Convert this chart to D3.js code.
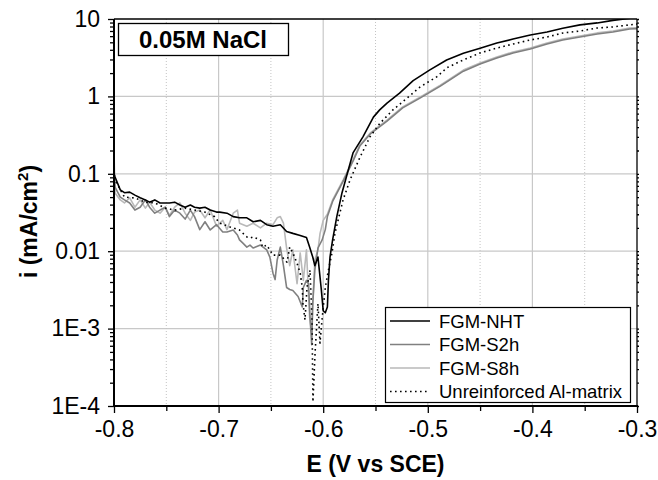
<!DOCTYPE html>
<html>
<head>
<meta charset="utf-8">
<script src="https://cdn.jsdelivr.net/npm/d3@7"></script>
<style>
  body { margin: 0; background: #fff; }
  svg { font-family: "Liberation Sans", Arial, Helvetica, sans-serif; }
</style>
</head>
<body>
<div id="chart"></div>
<script>
// axis values
const xTicks = [-0.8, -0.7, -0.6, -0.5, -0.4, -0.3];
const xMinorTicks = [-0.75, -0.65, -0.55, -0.45, -0.35];
const yTicks = [1e-4, 1e-3, 0.01, 0.1, 1, 10];
const yTickLabels = ["1E-4", "1E-3", "0.01", "0.1", "1", "10"];
const seriesNames = ["FGM-NHT", "FGM-S2h", "FGM-S8h", "Unreinforced Al-matrix"];

// [E (V vs SCE), i (mA/cm2)]
const nhtData = [
  [-0.800, 0.10], [-0.799, 0.091], [-0.794, 0.062], [-0.790, 0.057], [-0.785, 0.058],
  [-0.780, 0.053], [-0.775, 0.049], [-0.770, 0.046], [-0.766, 0.043], [-0.761, 0.046],
  [-0.756, 0.042], [-0.751, 0.042], [-0.747, 0.042], [-0.742, 0.043], [-0.737, 0.0395],
  [-0.732, 0.037], [-0.727, 0.0395], [-0.723, 0.037], [-0.718, 0.036], [-0.713, 0.037],
  [-0.708, 0.034], [-0.702, 0.032], [-0.699, 0.032], [-0.692, 0.031], [-0.686, 0.028],
  [-0.680, 0.027], [-0.673, 0.027], [-0.667, 0.024], [-0.660, 0.025], [-0.654, 0.022],
  [-0.648, 0.021], [-0.641, 0.022], [-0.635, 0.018], [-0.629, 0.017], [-0.622, 0.016],
  [-0.616, 0.015], [-0.613, 0.0113], [-0.610, 0.0084], [-0.608, 0.0065], [-0.606, 0.0077],
  [-0.605, 0.0084], [-0.602, 0.0034], [-0.600, 0.0017], [-0.598, 0.0016], [-0.596, 0.0019],
  [-0.595, 0.0042], [-0.5935, 0.0084], [-0.591, 0.014], [-0.587, 0.028], [-0.582, 0.057],
  [-0.577, 0.10], [-0.5715, 0.186], [-0.562, 0.30], [-0.552, 0.54], [-0.546, 0.67],
  [-0.539, 0.82], [-0.527, 1.1], [-0.514, 1.6], [-0.498, 2.2], [-0.482, 2.95],
  [-0.466, 3.6], [-0.450, 4.2], [-0.434, 4.9], [-0.4185, 5.5], [-0.402, 6.2],
  [-0.386, 6.8], [-0.371, 7.6], [-0.3545, 8.4], [-0.338, 8.9], [-0.323, 9.6],
  [-0.312, 10.0], [-0.300, 10.5]
];

const s2hData = [
  [-0.800, 0.12], [-0.799, 0.0675], [-0.794, 0.050], [-0.790, 0.046], [-0.785, 0.042],
  [-0.780, 0.034], [-0.775, 0.037], [-0.770, 0.046], [-0.766, 0.037], [-0.761, 0.031],
  [-0.756, 0.034], [-0.751, 0.037], [-0.747, 0.028], [-0.742, 0.034], [-0.737, 0.031],
  [-0.732, 0.026], [-0.727, 0.034], [-0.723, 0.028], [-0.718, 0.019], [-0.713, 0.024],
  [-0.708, 0.0188], [-0.702, 0.022], [-0.696, 0.0177], [-0.692, 0.0177], [-0.686, 0.0188],
  [-0.682, 0.0162], [-0.680, 0.014], [-0.677, 0.0128], [-0.673, 0.0113], [-0.670, 0.012],
  [-0.667, 0.011], [-0.660, 0.012], [-0.654, 0.0104], [-0.651, 0.0084], [-0.648, 0.0052],
  [-0.646, 0.0043], [-0.644, 0.0077], [-0.641, 0.0113], [-0.638, 0.0065], [-0.635, 0.0034],
  [-0.632, 0.0032], [-0.629, 0.0031], [-0.624, 0.0026], [-0.620, 0.0019], [-0.619, 0.0034],
  [-0.616, 0.0042], [-0.614, 0.0038], [-0.6126, 0.0014], [-0.611, 0.00062], [-0.610, 0.0021],
  [-0.608, 0.0057], [-0.605, 0.011], [-0.601, 0.014], [-0.598, 0.019], [-0.596, 0.028],
  [-0.591, 0.044], [-0.581, 0.080], [-0.5715, 0.146], [-0.565, 0.228], [-0.555, 0.327],
  [-0.539, 0.48], [-0.524, 0.71], [-0.5075, 0.95], [-0.488, 1.36], [-0.466, 2.12],
  [-0.450, 2.62], [-0.434, 3.13], [-0.4185, 3.64], [-0.402, 4.1], [-0.386, 4.75],
  [-0.371, 5.35], [-0.3545, 5.86], [-0.338, 6.41], [-0.323, 6.8], [-0.307, 7.43],
  [-0.300, 7.5]
];

const s8hData = [
  [-0.800, 0.186], [-0.799, 0.0565], [-0.794, 0.046], [-0.790, 0.042], [-0.785, 0.049],
  [-0.780, 0.037], [-0.775, 0.046], [-0.770, 0.036], [-0.766, 0.043], [-0.761, 0.034],
  [-0.756, 0.031], [-0.751, 0.037], [-0.747, 0.029], [-0.742, 0.037], [-0.737, 0.042],
  [-0.732, 0.031], [-0.727, 0.025], [-0.723, 0.032], [-0.718, 0.034], [-0.713, 0.027],
  [-0.708, 0.034], [-0.702, 0.021], [-0.696, 0.025], [-0.692, 0.019], [-0.686, 0.031],
  [-0.682, 0.034], [-0.680, 0.023], [-0.673, 0.021], [-0.667, 0.023], [-0.660, 0.020],
  [-0.654, 0.023], [-0.648, 0.022], [-0.644, 0.027], [-0.641, 0.028], [-0.638, 0.023],
  [-0.635, 0.011], [-0.632, 0.0065], [-0.629, 0.0104], [-0.625, 0.0038], [-0.622, 0.0095],
  [-0.619, 0.0042], [-0.616, 0.0104], [-0.613, 0.0014], [-0.611, 0.0009], [-0.610, 0.0021],
  [-0.608, 0.0077], [-0.605, 0.0104], [-0.603, 0.017], [-0.600, 0.025], [-0.596, 0.030],
  [-0.591, 0.046], [-0.581, 0.083], [-0.5715, 0.151], [-0.565, 0.236], [-0.555, 0.337],
  [-0.539, 0.493], [-0.524, 0.73], [-0.5075, 0.98], [-0.488, 1.40], [-0.466, 2.19],
  [-0.450, 2.70], [-0.434, 3.23], [-0.4185, 3.75], [-0.402, 4.22], [-0.386, 4.90],
  [-0.371, 5.52], [-0.3545, 6.04], [-0.338, 6.61], [-0.323, 7.0], [-0.307, 7.66],
  [-0.300, 7.7]
];

const matrixData = [
  [-0.800, 0.09], [-0.799, 0.083], [-0.790, 0.050], [-0.780, 0.0487], [-0.770, 0.043],
  [-0.761, 0.042], [-0.751, 0.036], [-0.742, 0.034], [-0.732, 0.036], [-0.723, 0.034],
  [-0.713, 0.032], [-0.704, 0.028], [-0.699, 0.023], [-0.689, 0.0206], [-0.680, 0.0188],
  [-0.673, 0.0153], [-0.670, 0.0148], [-0.667, 0.0153], [-0.660, 0.014], [-0.658, 0.0113],
  [-0.654, 0.012], [-0.648, 0.0089], [-0.641, 0.0089], [-0.6365, 0.0077], [-0.6346, 0.0072],
  [-0.632, 0.0113], [-0.629, 0.0095], [-0.625, 0.0070], [-0.622, 0.0052], [-0.620, 0.0034],
  [-0.6193, 0.0021], [-0.6174, 0.0013], [-0.6155, 0.0034], [-0.6126, 0.0057], [-0.6107, 0.0013],
  [-0.6098, 0.000113], [-0.6078, 0.00048], [-0.6059, 0.0013], [-0.605, 0.0021], [-0.6031, 0.00065],
  [-0.6011, 0.0013], [-0.598, 0.0034], [-0.595, 0.0057], [-0.5916, 0.0095], [-0.5887, 0.0172],
  [-0.5868, 0.022], [-0.581, 0.046], [-0.5744, 0.083], [-0.5648, 0.164], [-0.5553, 0.30],
  [-0.5457, 0.45], [-0.5333, 0.67], [-0.5199, 0.95], [-0.5075, 1.32], [-0.4912, 1.8],
  [-0.4816, 2.35], [-0.4663, 2.95], [-0.450, 3.64], [-0.4338, 4.22], [-0.4185, 4.75],
  [-0.4023, 5.35], [-0.386, 5.85], [-0.3707, 6.6], [-0.3545, 7.0], [-0.3382, 7.65],
  [-0.323, 7.9], [-0.3067, 8.4], [-0.300, 8.6]
];

let svgWidth = 658,
    svgHeight = 480,
    plotLeft = 114, plotRight = 637, plotTop = 19, plotBottom = 406;

let svg = d3.select("#chart")
  .append("svg")
  .attr("width", svgWidth)
  .attr("height", svgHeight);

let x = d3.scaleLinear().domain([-0.8, -0.3]).range([plotLeft, plotRight]);
let y = d3.scaleLog().domain([1e-4, 10]).range([plotBottom, plotTop]);

let yMinor = [];
[1e-4, 1e-3, 0.01, 0.1, 1].forEach(function(d) {
  for (let k = 2; k <= 9; k++) yMinor.push(d * k);
});

// grid
let grid = svg.append("g").attr("class", "grid");
grid.selectAll("line.hmaj")
  .data(yTicks.slice(1, 5))
  .enter().append("line")
    .attr("x1", plotLeft).attr("x2", plotRight)
    .attr("y1", function(d) { return y(d); })
    .attr("y2", function(d) { return y(d); })
    .attr("stroke", "#c8c8c8").attr("stroke-width", 1.2);
grid.selectAll("line.vmaj")
  .data(xTicks.slice(1, 5))
  .enter().append("line")
    .attr("y1", plotTop).attr("y2", plotBottom)
    .attr("x1", function(d) { return x(d); })
    .attr("x2", function(d) { return x(d); })
    .attr("stroke", "#c8c8c8").attr("stroke-width", 1.2);
grid.selectAll("line.vmin")
  .data(xMinorTicks)
  .enter().append("line")
    .attr("y1", plotTop).attr("y2", plotBottom)
    .attr("x1", function(d) { return x(d); })
    .attr("x2", function(d) { return x(d); })
    .attr("stroke", "#c4c4c4").attr("stroke-width", 1)
    .attr("stroke-dasharray", "1,2");

// curves
svg.append("clipPath").attr("id", "plotClip")
  .append("rect")
    .attr("x", plotLeft).attr("y", plotTop)
    .attr("width", plotRight - plotLeft).attr("height", plotBottom - plotTop);

let line = d3.line()
  .x(function(d) { return x(d[0]); })
  .y(function(d) { return y(d[1]); });

let seriesStyle = [
  {data: nhtData, color: "#000000", width: 1.6, dash: null},
  {data: s2hData, color: "#808080", width: 1.6, dash: null},
  {data: s8hData, color: "#b9b9b9", width: 1.6, dash: null},
  {data: matrixData, color: "#000000", width: 1.6, dash: "1.6,3.4"}
];

let curves = svg.append("g").attr("clip-path", "url(#plotClip)");
[2, 1, 3, 0].forEach(function(i) {
  let s = seriesStyle[i];
  curves.append("path")
    .datum(s.data)
    .attr("fill", "none")
    .attr("stroke", s.color)
    .attr("stroke-width", s.width)
    .attr("stroke-dasharray", s.dash)
    .attr("stroke-linejoin", "round")
    .attr("d", line);
});

// axes
let xAxis = svg.append("g")
  .attr("transform", `translate(0,${plotBottom})`)
  .call(d3.axisBottom(x).tickValues(xTicks).tickSize(7).tickPadding(4)
    .tickFormat(function(d) { return d3.format(".1f")(d).replace("−", "-"); }));
svg.append("g")
  .attr("transform", `translate(0,${plotBottom})`)
  .call(d3.axisBottom(x).tickValues(xMinorTicks).tickSize(5).tickFormat(""));

let yAxis = svg.append("g")
  .attr("transform", `translate(${plotLeft},0)`)
  .call(d3.axisLeft(y).tickValues(yTicks).tickSize(6).tickPadding(8)
    .tickFormat(function(d, i) { return yTickLabels[i]; }));
svg.append("g")
  .attr("transform", `translate(${plotLeft},0)`)
  .call(d3.axisLeft(y).tickValues(yMinor).tickSize(4).tickFormat(""));

// right axis marks
svg.append("g")
  .attr("transform", `translate(${plotRight},0)`)
  .call(d3.axisRight(y).tickValues(yTicks.concat(yMinor)).tickSize(2).tickFormat(""));

svg.selectAll(".domain").remove();
svg.selectAll(".tick line").attr("stroke", "#000").attr("stroke-width", 1.3);
svg.selectAll(".tick text")
  .attr("fill", "#000")
  .attr("font-size", "23px")
  .attr("font-family", "Liberation Sans, Arial, sans-serif");
xAxis.selectAll(".tick text").attr("dy", "0.85em");

// frame
svg.append("line").attr("x1", plotLeft).attr("x2", plotLeft).attr("y1", plotTop).attr("y2", plotBottom)
  .attr("stroke", "#000").attr("stroke-width", 2);
svg.append("line").attr("x1", plotLeft - 1).attr("x2", plotRight + 1).attr("y1", plotBottom).attr("y2", plotBottom)
  .attr("stroke", "#000").attr("stroke-width", 2);
svg.append("line").attr("x1", plotLeft).attr("x2", plotRight).attr("y1", plotTop).attr("y2", plotTop)
  .attr("stroke", "#000").attr("stroke-width", 1.3);
svg.append("line").attr("x1", plotRight).attr("x2", plotRight).attr("y1", plotTop).attr("y2", plotBottom)
  .attr("stroke", "#000").attr("stroke-width", 1.3);

// title box
svg.append("rect")
  .attr("x", 118.5).attr("y", 23.5).attr("width", 170).attr("height", 32)
  .attr("fill", "#fff").attr("stroke", "#000").attr("stroke-width", 1.3);
svg.append("text")
  .attr("x", 203).attr("y", 48)
  .attr("text-anchor", "middle")
  .attr("font-size", "24px").attr("font-weight", "700")
  .text("0.05M NaCl");

// axis titles
svg.append("text")
  .attr("x", (plotLeft + plotRight) / 2).attr("y", 472)
  .attr("text-anchor", "middle")
  .attr("font-size", "23px").attr("font-weight", "700")
  .text("E (V vs SCE)");

let yTitle = svg.append("text")
  .attr("transform", `translate(37,${(plotTop + plotBottom) / 2 + 9}) rotate(-90)`)
  .attr("text-anchor", "middle")
  .attr("font-size", "23px").attr("font-weight", "700");
yTitle.append("tspan").text("i (mA/cm");
yTitle.append("tspan").attr("font-size", "15px").attr("dy", "-9").text("2");
yTitle.append("tspan").attr("dy", "9").text(")");

// legend
let legend = svg.append("g");
legend.append("rect")
  .attr("x", 385.5).attr("y", 307.5).attr("width", 245).attr("height", 95)
  .attr("fill", "#fff").attr("stroke", "#000").attr("stroke-width", 1.2);
seriesNames.forEach(function(name, i) {
  let s = seriesStyle[i],
      ly = 321 + i * 23.5;
  legend.append("line")
    .attr("x1", 390).attr("x2", 430).attr("y1", ly).attr("y2", ly)
    .attr("stroke", s.color).attr("stroke-width", s.width)
    .attr("stroke-dasharray", s.dash);
  legend.append("text")
    .attr("x", 439).attr("y", ly + 6.5)
    .attr("font-size", "18.5px")
    .text(name);
});
</script>
</body>
</html>
